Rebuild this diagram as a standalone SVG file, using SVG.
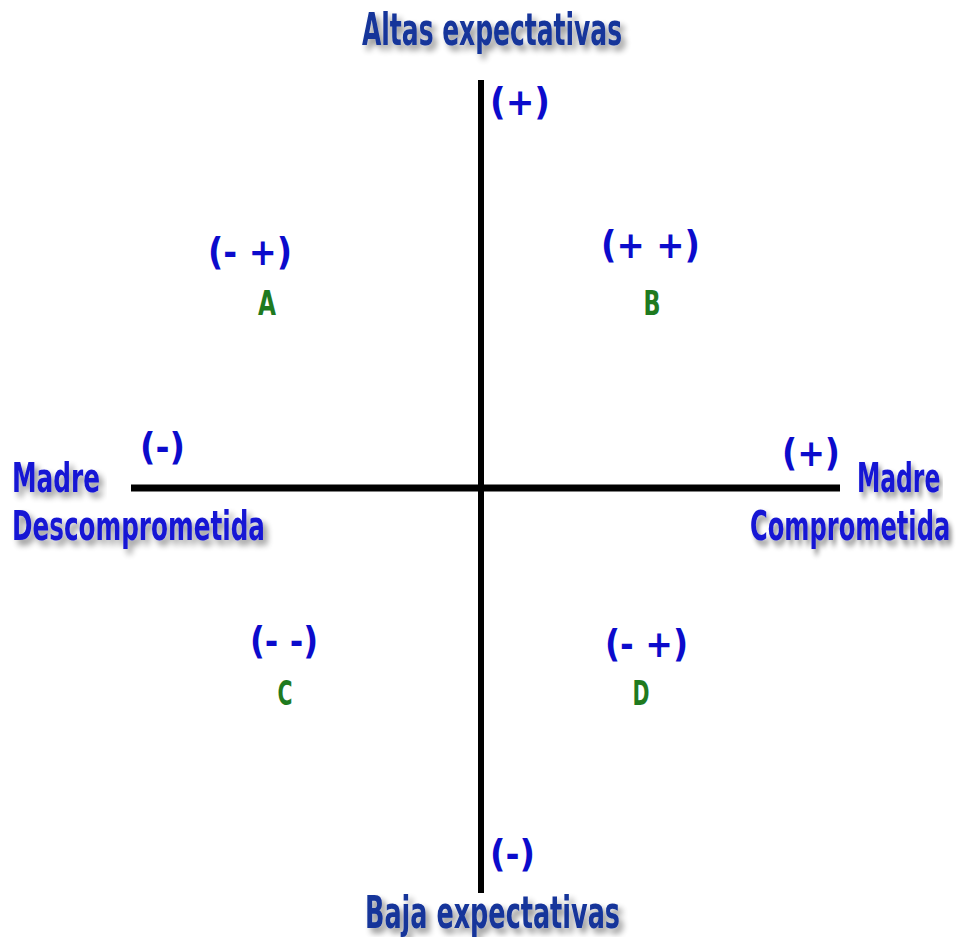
<svg xmlns="http://www.w3.org/2000/svg" width="960" height="937" viewBox="0 0 960 937">
<defs>
<filter id="sh" x="-5%" y="-20%" width="112%" height="160%">
<feGaussianBlur in="SourceAlpha" stdDeviation="3"/>
<feOffset dx="4" dy="5" result="b"/>
<feComponentTransfer><feFuncA type="linear" slope="0.45"/></feComponentTransfer>
<feMerge><feMergeNode/><feMergeNode in="SourceGraphic"/></feMerge>
</filter>
<filter id="shr" x="-5%" y="-20%" width="108%" height="160%">
<feGaussianBlur in="SourceAlpha" stdDeviation="3"/>
<feOffset dx="5" dy="5" result="b"/>
<feComponentTransfer><feFuncA type="linear" slope="0.45"/></feComponentTransfer>
<feMerge><feMergeNode/><feMergeNode in="SourceGraphic"/></feMerge>
</filter>
</defs>
<style>
text{font-family:"DejaVu Sans Condensed","DejaVu Sans",sans-serif;font-weight:bold;}
.axis{fill:#14349a;font-size:44px;filter:url(#sh);}
.madre{fill:#1414d4;font-size:41px;filter:url(#sh);}
.madre.r{filter:url(#shr);}
.sign{fill:#0b0bcc;font-size:37px;}
.let{fill:#1f7a1f;font-size:34px;}
.ax{stroke:#000;fill:none;}
</style>
<rect width="960" height="937" fill="#fff"/>
<g id="connectors">
<line class="ax" x1="481" y1="80" x2="481" y2="893" stroke-width="6"/>
<line class="ax" x1="131" y1="488" x2="840" y2="488" stroke-width="7"/>
</g>
<g id="top-label"><text class="axis" x="362" y="45" textLength="260" lengthAdjust="spacingAndGlyphs">Altas expectativas</text></g>
<g id="top-sign"><text class="sign" x="490" y="115" textLength="60" lengthAdjust="spacingAndGlyphs">(+)</text></g>
<g id="bottom-sign"><text class="sign" x="490" y="867" textLength="45" lengthAdjust="spacingAndGlyphs">(-)</text></g>
<g id="bottom-label"><text class="axis" x="365" y="928" textLength="255" lengthAdjust="spacingAndGlyphs">Baja expectativas</text></g>
<g id="left-sign"><text class="sign" x="140" y="460" textLength="45" lengthAdjust="spacingAndGlyphs">(-)</text></g>
<g id="left-label">
<text class="madre" x="12" y="492" textLength="88" lengthAdjust="spacingAndGlyphs">Madre</text>
<text class="madre" x="12" y="540" textLength="253" lengthAdjust="spacingAndGlyphs">Descomprometida</text>
</g>
<g id="right-sign"><text class="sign" x="782" y="466" textLength="58" lengthAdjust="spacingAndGlyphs">(+)</text></g>
<g id="right-label">
<g transform="translate(857 492) scale(0.635 1)"><text class="madre r" x="0" y="0">Madre</text></g>
<g transform="translate(750 540) scale(0.655 1)"><text class="madre r" x="0" y="0">Comprometida</text></g>
</g>
<g id="quadrant-A">
<text class="sign" x="208" y="265" textLength="84" lengthAdjust="spacingAndGlyphs">(- +)</text>
<text class="let" x="267" y="315" text-anchor="middle" textLength="18" lengthAdjust="spacingAndGlyphs">A</text>
</g>
<g id="quadrant-B">
<text class="sign" x="601" y="258" textLength="99" lengthAdjust="spacingAndGlyphs">(+ +)</text>
<text class="let" x="652" y="315" text-anchor="middle" textLength="17" lengthAdjust="spacingAndGlyphs">B</text>
</g>
<g id="quadrant-C">
<text class="sign" x="250" y="654" textLength="68" lengthAdjust="spacingAndGlyphs">(- -)</text>
<text class="let" x="285" y="705" text-anchor="middle" textLength="15" lengthAdjust="spacingAndGlyphs">C</text>
</g>
<g id="quadrant-D">
<text class="sign" x="605" y="657" textLength="83" lengthAdjust="spacingAndGlyphs">(- +)</text>
<text class="let" x="641" y="705" text-anchor="middle" textLength="17" lengthAdjust="spacingAndGlyphs">D</text>
</g>
</svg>
